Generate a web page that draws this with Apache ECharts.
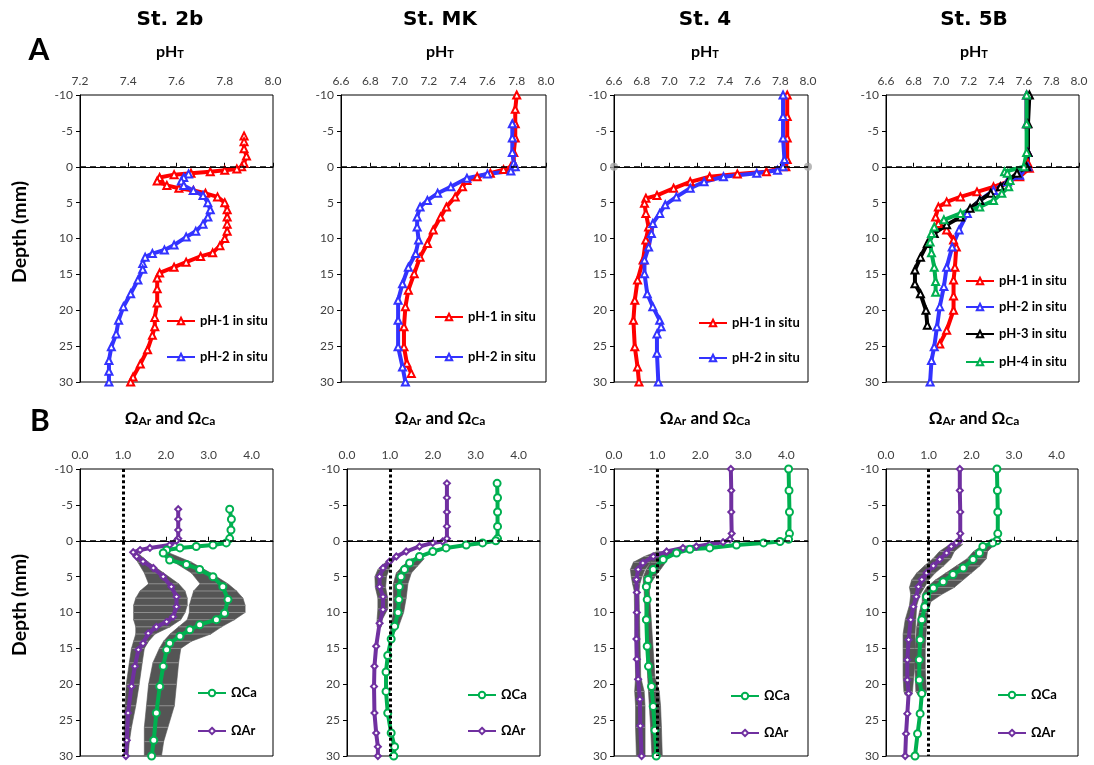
<!DOCTYPE html>
<html>
<head>
<meta charset="utf-8">
<script src="https://cdn.jsdelivr.net/npm/echarts@6/dist/echarts.min.js"></script>
<style>html,body{margin:0;padding:0;background:#fff;}#chart{width:1094px;height:765px;}</style>
</head>
<body>
<div id="chart"></div>
<script>
// ---------------- DATA ----------------
const stations = ['St. 2b', 'St. MK', 'St. 4', 'St. 5B'];
const panelLetters = ['A', 'B'];
const phAxisA = [7.2, 8.0, 0.2];      // min, max, interval (St. 2b)
const phAxisB = [6.6, 8.0, 0.2];      // min, max, interval (others)
const omegaAxis = [0, 4.5, 1];
const depthAxis = [-10, 30, 5];
const surfaceDepth = 0;
const omegaOne = 1;
const phSeriesNames = ['pH-1 in situ', 'pH-2 in situ', 'pH-3 in situ', 'pH-4 in situ'];
const omegaSeriesNames = ['ΩCa', 'ΩAr'];

// pH profiles: [pH, depth mm]
const st2b_pH1 = [[7.88,-4.3],[7.88,-3.5],[7.88,-2.5],[7.89,-1.5],[7.88,-0.5],[7.87,0],[7.85,0.3],[7.80,0.5],[7.74,0.7],[7.66,0.9],[7.59,1.1],[7.53,1.5],[7.52,2.0],[7.56,2.6],[7.61,3.0],[7.67,3.3],[7.72,3.7],[7.77,4.2],[7.80,5.0],[7.81,6.0],[7.81,7.0],[7.81,8.0],[7.81,9.0],[7.80,10.0],[7.78,11.0],[7.75,12.0],[7.70,12.5],[7.64,13.3],[7.59,14.0],[7.53,14.8],[7.52,15.5],[7.52,17],[7.52,19],[7.51,21],[7.51,22.3],[7.50,23.5],[7.48,25.5],[7.45,27.5],[7.42,29.3],[7.41,30]];
const st2b_pH2 = [[7.65,1.0],[7.63,1.5],[7.62,2.0],[7.63,2.6],[7.67,3.3],[7.71,4.0],[7.73,5.0],[7.74,6.0],[7.73,7.0],[7.71,8.0],[7.68,9.0],[7.64,9.8],[7.59,10.9],[7.55,11.6],[7.50,12.1],[7.47,12.6],[7.46,13.5],[7.46,14.3],[7.44,15.8],[7.41,17.7],[7.38,19.5],[7.36,21.4],[7.35,23.3],[7.33,25.1],[7.32,27],[7.32,28.5],[7.32,30]];
const stMK_pH1 = [[7.80,-10],[7.79,-8],[7.79,-6],[7.79,-4],[7.78,-2],[7.78,-0.5],[7.76,0],[7.71,0.4],[7.62,0.9],[7.53,1.4],[7.46,1.9],[7.43,2.8],[7.38,4.2],[7.32,5.6],[7.28,7.0],[7.23,8.8],[7.19,10.7],[7.14,12.6],[7.10,14.9],[7.06,17.2],[7.04,19.5],[7.03,22.3],[7.03,25.1],[7.05,27.4],[7.08,28.8]];
const stMK_pH2 = [[7.77,-6],[7.77,-4],[7.77,-2],[7.78,-0.5],[7.79,0],[7.76,0.6],[7.60,1.0],[7.46,1.6],[7.35,2.8],[7.26,3.7],[7.19,4.7],[7.14,5.6],[7.12,7.0],[7.12,8.4],[7.13,10.2],[7.11,12.1],[7.06,14.0],[7.02,16.3],[6.99,18.6],[6.99,21.4],[6.99,25.1],[7.02,27.9],[7.04,30]];
const st4_pH1 = [[7.85,-10],[7.85,-7],[7.85,-4],[7.85,-1],[7.84,0],[7.70,0.7],[7.49,1.0],[7.29,1.4],[7.15,2.1],[7.03,3.0],[6.91,4.0],[6.83,4.4],[6.82,5.1],[6.83,6.5],[6.85,8.4],[6.83,10.2],[6.81,13.0],[6.77,15.8],[6.75,18.6],[6.74,21.4],[6.75,25.1],[6.77,27.9],[6.78,30]];
const st4_pH2 = [[7.82,-10],[7.82,-7],[7.82,-4],[7.83,-1],[7.82,0],[7.78,0.5],[7.63,0.9],[7.39,1.4],[7.25,2.1],[7.15,3.0],[7.05,4.2],[6.97,5.3],[6.93,6.5],[6.88,7.9],[6.87,9.3],[6.85,11.2],[6.82,13.0],[6.82,14.9],[6.84,17.7],[6.88,19.5],[6.93,21.4],[6.94,22.3],[6.91,23.3],[6.91,26.0],[6.92,30]];
const st4_surfaceMarks = [[6.6,0],[8.0,0]];
const st5B_pH1 = [[7.62,-10],[7.62,-6],[7.63,-2],[7.63,-0.5],[7.64,0.2],[7.57,1.4],[7.48,2.1],[7.38,2.8],[7.26,3.5],[7.14,4.2],[7.04,4.9],[6.98,5.6],[6.96,7.0],[6.98,7.9],[7.04,8.8],[7.09,10.2],[7.11,11.2],[7.10,14.0],[7.09,15.8],[7.09,18],[7.09,20.0],[7.04,22.8],[6.99,24.7]];
const st5B_pH2 = [[7.62,-10],[7.62,-6],[7.63,-2],[7.63,0],[7.57,1.2],[7.48,2.1],[7.38,3.3],[7.28,4.7],[7.19,6.5],[7.13,8.8],[7.08,11.2],[7.04,14.0],[7.02,16.7],[6.99,19.5],[6.97,22.3],[6.95,25.1],[6.93,27.0],[6.92,30]];
const st5B_pH3 = [[7.64,-10],[7.63,-6],[7.63,-2],[7.62,0],[7.55,0.9],[7.49,1.9],[7.43,2.8],[7.36,3.7],[7.28,4.7],[7.21,5.8],[7.14,7.0],[7.04,8.1],[6.95,9.3],[6.90,10.7],[6.85,12.6],[6.81,14.4],[6.81,16.3],[6.85,17.7],[6.89,20.0],[6.90,22.1]];
const st5B_pH4 = [[7.62,-10],[7.62,-6],[7.62,-2],[7.60,0],[7.46,0.7],[7.48,0.9],[7.50,1.9],[7.49,2.8],[7.44,3.7],[7.38,4.7],[7.28,5.6],[7.14,6.5],[7.02,7.4],[6.95,8.4],[6.93,9.3],[6.92,10.5],[6.93,12],[6.95,14],[6.96,16],[6.96,17.5]];

// Saturation states: [Omega, depth mm]
const st2b_Ca = [[3.49,-4.4],[3.53,-3],[3.52,-1.5],[3.49,-0.3],[3.41,0.3],[3.10,0.6],[2.71,0.8],[2.33,1.0],[2.02,1.3],[1.94,1.7],[2.09,2.7],[2.48,3.3],[2.79,4.0],[3.10,5.0],[3.33,6.4],[3.45,8.2],[3.37,10.1],[3.18,11.0],[2.79,11.7],[2.56,12.4],[2.33,13.3],[2.09,14.3],[2.02,15.2],[1.94,17.5],[1.86,20.3],[1.78,24.0],[1.72,27.8],[1.67,30]];
const st2b_Ar = [[2.29,-4.4],[2.29,-3],[2.29,-1.5],[2.29,-0.3],[2.25,0],[2.09,0.6],[1.63,1.0],[1.40,1.3],[1.24,1.6],[1.32,2.2],[1.47,2.9],[1.71,3.8],[1.94,5.0],[2.13,6.4],[2.25,7.8],[2.25,9.2],[2.17,10.6],[2.02,11.3],[1.78,12.0],[1.59,12.9],[1.47,14.3],[1.36,15.2],[1.28,17.5],[1.20,20.3],[1.12,24.0],[1.09,27.8],[1.07,30]];
const stMK_Ca = [[3.50,-8],[3.51,-6],[3.51,-4],[3.51,-2],[3.51,-0.3],[3.47,0],[3.16,0.3],[2.78,0.6],[2.31,1.0],[2.0,1.5],[1.69,2.2],[1.46,3.1],[1.34,4.0],[1.26,5.0],[1.22,6.4],[1.21,8.2],[1.19,10.0],[1.11,11.9],[1.03,13.7],[0.95,16.0],[0.91,18.3],[0.91,21.0],[0.95,24.0],[1.03,26.8],[1.11,28.7],[1.09,30]];
const stMK_Ar = [[2.33,-8],[2.33,-6],[2.33,-4],[2.33,-2],[2.33,-0.3],[2.23,0.1],[2.0,0.3],[1.69,0.8],[1.38,1.5],[1.15,2.2],[0.99,2.9],[0.84,3.8],[0.76,5.0],[0.76,6.4],[0.84,7.8],[0.84,9.6],[0.76,11.5],[0.68,14.7],[0.64,17.5],[0.63,20.3],[0.64,24.0],[0.68,26.8],[0.72,28.7],[0.72,30]];
const st4_Ca = [[4.05,-10],[4.06,-7],[4.07,-4],[4.07,-1],[4.05,-0.2],[3.85,0.1],[3.47,0.3],[2.84,0.6],[2.22,1.0],[1.76,1.2],[1.45,1.7],[1.14,2.6],[0.91,4.0],[0.79,5.4],[0.75,6.4],[0.77,8.2],[0.75,11.0],[0.77,14.7],[0.80,17.5],[0.87,20.3],[0.91,23.1],[0.95,26.4],[0.98,30]];
const st4_Ar = [[2.71,-10],[2.72,-7],[2.72,-4],[2.73,-1],[2.69,-0.2],[2.53,0.2],[2.22,0.5],[1.91,0.8],[1.60,1.0],[1.22,1.5],[0.91,2.2],[0.67,3.1],[0.56,4.0],[0.52,5.4],[0.53,7.2],[0.53,10.0],[0.52,13.7],[0.53,16.5],[0.56,19.3],[0.60,22.1],[0.61,25.8],[0.64,30]];
const st5B_Ca = [[2.60,-10],[2.61,-7],[2.62,-4],[2.62,-1],[2.60,0],[2.50,0.3],[2.27,0.8],[2.19,1.7],[2.04,2.6],[1.81,3.8],[1.57,4.7],[1.34,5.7],[1.11,6.6],[0.95,7.8],[0.91,9.2],[0.84,11.0],[0.80,13.8],[0.78,16.6],[0.78,19.4],[0.84,21.3],[0.80,24.1],[0.74,26.9],[0.68,30]];
const st5B_Ar = [[1.73,-10],[1.73,-7],[1.74,-4],[1.74,-1],[1.72,0],[1.65,0.3],[1.53,0.8],[1.42,1.7],[1.26,2.6],[1.11,3.5],[0.95,4.5],[0.84,5.4],[0.76,6.4],[0.71,7.8],[0.64,9.2],[0.58,11.0],[0.53,13.8],[0.50,16.6],[0.50,19.4],[0.53,21.3],[0.50,24.1],[0.47,26.9],[0.45,30]];

// Error ranges (standard deviation envelopes): [depth, low, high]
const st2b_ArErr = [[1.5,1.2,1.3],[3,1.35,1.6],[4.5,1.5,1.95],[6,1.6,2.3],[7,1.4,2.45],[8,1.3,2.5],[9,1.25,2.5],[10,1.25,2.45],[11,1.25,2.35],[12,1.3,2.1],[13,1.3,1.75],[14,1.25,1.6],[15,1.2,1.5],[17,1.15,1.45],[20,1.08,1.38],[23,1.05,1.3],[26,1.03,1.2],[28,1.03,1.15],[30,1.02,1.12]];
const st2b_CaErr = [[1.5,1.9,2.0],[3,2.2,2.6],[4.5,2.6,3.05],[6,2.8,3.45],[7,2.65,3.65],[8,2.6,3.8],[9,2.55,3.85],[10,2.55,3.85],[11,2.5,3.6],[12,2.3,3.3],[13,2.1,3.05],[14,1.95,2.6],[15,1.85,2.35],[17,1.7,2.3],[20,1.6,2.25],[23,1.55,2.2],[26,1.5,2.05],[28,1.5,1.95],[30,1.5,1.9]];
const stMK_ArErr = [[3,0.9,1.05],[4,0.72,0.98],[5,0.65,0.92],[6.5,0.66,0.9],[8,0.72,0.95],[9.5,0.72,0.95],[11,0.7,0.82],[12,0.7,0.8]];
const stMK_CaErr = [[2.5,1.5,1.8],[3.5,1.3,1.65],[4.5,1.15,1.5],[6,1.08,1.42],[8,1.08,1.38],[10,1.08,1.32],[12,1.02,1.2],[13,1.0,1.08]];
const st4_ArErr = [[1.5,1.0,1.3],[2.2,0.7,1.05],[3,0.45,0.85],[4,0.38,0.72],[5,0.4,0.65],[6,0.43,0.6],[7,0.47,0.58],[19,0.5,0.62],[21,0.48,0.7],[23,0.5,0.72],[26,0.5,0.72],[30,0.52,0.72]];
const st4_CaErr = [[1.5,1.3,1.55],[2.2,1.0,1.25],[3,0.85,1.2],[4,0.75,1.08],[5,0.68,0.95],[6,0.68,0.85],[7,0.7,0.82],[19,0.78,0.95],[21,0.8,1.05],[23,0.82,1.08],[26,0.85,1.1],[30,0.88,1.12]];
const st5B_ArErr = [[0.5,1.5,1.8],[1.5,1.25,1.6],[2.5,1.1,1.52],[3.5,0.9,1.35],[4.5,0.72,1.15],[5.5,0.6,1.0],[6.5,0.55,0.9],[7.5,0.58,0.8],[9,0.55,0.72],[11,0.45,0.7],[13,0.4,0.68],[15,0.4,0.68],[17,0.4,0.68],[19,0.4,0.65],[21,0.42,0.62],[21.5,0.45,0.6]];
const st5B_CaErr = [[0.5,2.3,2.55],[1.5,2.05,2.38],[2.5,1.9,2.35],[3.5,1.65,2.2],[4.5,1.4,2.0],[5.5,1.15,1.8],[6.5,0.95,1.6],[7.5,0.85,1.3],[8.5,0.85,1.05],[10,0.78,0.98],[12,0.72,0.95],[15,0.68,0.92],[18,0.68,0.92],[21,0.7,0.95],[21.5,0.75,0.92]];

// ---------------- LAYOUT / STYLE ----------------
const FONT = 'Lato, "Open Sans", sans-serif';
const TITLE_FONT = '"DejaVu Sans", Lato, sans-serif';
const gridBoxes = [
  [80,95,193,287],[341,95,205,287],[614,95,194,287],[886,95,193,287],
  [80,469,193,287],[347,469,193,287],[614,469,194,287],[886,469,192,287]
];
const COLORS = { 'pH-1 in situ':'#FF0000', 'pH-2 in situ':'#3333FF', 'pH-3 in situ':'#000000', 'pH-4 in situ':'#00B050', 'ΩCa':'#00B050', 'ΩAr':'#7030A0' };
const SYMBOLS = { 'pH-1 in situ':'emptyTriangle', 'pH-2 in situ':'emptyTriangle', 'pH-3 in situ':'emptyTriangle', 'pH-4 in situ':'emptyTriangle', 'ΩCa':'emptyCircle', 'ΩAr':'emptyDiamond' };
const SIZES = { 'ΩCa':7, 'ΩAr':6 };

const panelSeries = [
  [[phSeriesNames[0], st2b_pH1], [phSeriesNames[1], st2b_pH2]],
  [[phSeriesNames[0], stMK_pH1], [phSeriesNames[1], stMK_pH2]],
  [[phSeriesNames[0], st4_pH1], [phSeriesNames[1], st4_pH2]],
  [[phSeriesNames[0], st5B_pH1], [phSeriesNames[1], st5B_pH2], [phSeriesNames[2], st5B_pH3], [phSeriesNames[3], st5B_pH4]],
  [[omegaSeriesNames[1], st2b_Ar], [omegaSeriesNames[0], st2b_Ca]],
  [[omegaSeriesNames[1], stMK_Ar], [omegaSeriesNames[0], stMK_Ca]],
  [[omegaSeriesNames[1], st4_Ar], [omegaSeriesNames[0], st4_Ca]],
  [[omegaSeriesNames[1], st5B_Ar], [omegaSeriesNames[0], st5B_Ca]]
];
const panelBands = [null,null,null,null,[st2b_ArErr, st2b_CaErr],[stMK_ArErr, stMK_CaErr],[st4_ArErr, st4_CaErr],[st5B_ArErr, st5B_CaErr]];

// legend item positions: [lineStartX, centerY]
const legendPos = [
  [[166,321],[166,357]],
  [[434,317],[434,357]],
  [[698,323],[698,358]],
  [[965,281],[965,307],[965,334],[965,362]],
  [[197,693],[197,731]],
  [[467,695],[467,731]],
  [[730,696],[730,733]],
  [[997,695],[997,733]]
];
const legendOrder = [
  phSeriesNames.slice(0,2), phSeriesNames.slice(0,2), phSeriesNames.slice(0,2), phSeriesNames,
  omegaSeriesNames, omegaSeriesNames, omegaSeriesNames, omegaSeriesNames
];

const grid = gridBoxes.map(b => ({ left:b[0], top:b[1], width:b[2], height:b[3], show:true, borderColor:'#000', borderWidth:1, backgroundColor:'transparent' }));

const axisLabelStyle = { color:'#404040', fontSize:12, fontFamily:FONT };
const xAxis = gridBoxes.map((b, i) => {
  const ax = i === 0 ? phAxisA : (i < 4 ? phAxisB : omegaAxis);
  return {
    type:'value', gridIndex:i, position:'top', min:ax[0], max:ax[1], interval:ax[2],
    axisLine:{ show:true, lineStyle:{ color:'#000', width:1 } },
    axisTick:{ show:true, length:4, lineStyle:{ color:'#000' } },
    splitLine:{ show:false },
    axisLabel:Object.assign({ margin:8, showMaxLabel: i < 4, formatter: v => v.toFixed(1) }, axisLabelStyle)
  };
});
const yAxis = gridBoxes.map((b, i) => ({
  type:'value', gridIndex:i, inverse:true, min:depthAxis[0], max:depthAxis[1], interval:depthAxis[2],
  axisLine:{ show:true, lineStyle:{ color:'#000', width:1 } },
  axisTick:{ show:true, length:4, lineStyle:{ color:'#000' } },
  splitLine:{ show:false },
  axisLabel:Object.assign({ margin:7 }, axisLabelStyle)
}));

function bandSeries(g, band) {
  return {
    type:'custom', name:'sd', xAxisIndex:g, yAxisIndex:g, z:1, silent:true, clip:true,
    data: band, encode:{ x:[1,2], y:0 },
    renderItem: function (params, api) {
      const i = params.dataIndex;
      const d0 = api.value(0), lo0 = api.value(1), hi0 = api.value(2);
      const a = api.coord([lo0, d0]), b = api.coord([hi0, d0]);
      const children = [];
      if (i < band.length - 1) {
        const n = band[i + 1];
        const c = api.coord([n[2], n[0]]), e = api.coord([n[1], n[0]]);
        children.push({ type:'polygon', shape:{ points:[a, b, c, e] }, style:{ fill:'#555555', stroke:'#555555', lineWidth:0.6 } });
      }
      children.push({ type:'line', shape:{ x1:a[0], y1:a[1], x2:b[0], y2:b[1] }, style:{ stroke:'#9a9a9a', lineWidth:0.8 } });
      return { type:'group', children:children };
    }
  };
}

const series = [];
panelSeries.forEach((list, g) => {
  if (panelBands[g]) panelBands[g].forEach(band => series.push(bandSeries(g, band)));
  list.forEach(([name, data], k) => {
    const s = {
      type:'line', name:name, xAxisIndex:g, yAxisIndex:g, data:data, z:3,
      symbol:SYMBOLS[name], symbolSize:SIZES[name] || 7, showSymbol:true,
      lineStyle:{ color:COLORS[name], width:4 },
      itemStyle:{ color:COLORS[name], borderColor:COLORS[name], borderWidth:1.5 },
      emphasis:{ disabled:true }
    };
    if (k === 0) {
      const mlData = [{ yAxis:surfaceDepth, lineStyle:{ type:[6,4], width:1.5, color:'#000' } }];
      if (g >= 4) mlData.push({ xAxis:omegaOne, lineStyle:{ type:[3,2.6], width:3, color:'#000' } });
      s.markLine = { silent:true, symbol:'none', label:{ show:false }, animation:false, data:mlData };
    }
    series.push(s);
  });
});
series.push({
  type:'scatter', name:'surface', xAxisIndex:2, yAxisIndex:2, data:st4_surfaceMarks,
  symbol:'circle', symbolSize:8, clip:false, z:4, silent:true, itemStyle:{ color:'#A6A6A6' }
});

const legend = [];
legendPos.forEach((items, g) => {
  items.forEach((p, k) => {
    legend.push({
      data:[legendOrder[g][k]], orient:'vertical', left:p[0], top:p[1] - 7,
      itemWidth:28, itemHeight:8, padding:0, selectedMode:false,
      textStyle:{ fontSize:13, fontWeight:'bold', color:'#000', fontFamily:FONT, lineHeight:14 }
    });
  });
});

const titleX = [170, 440, 705, 974];
function txt(x, y, text, size, font, rich, rot) {
  return { type:'text', x:x, y:y, rotation:rot || 0, style:{ text:text, fontSize:size, fontWeight:'bold', fontFamily:font, fill:'#000', align:'center', verticalAlign:'middle', rich:rich || {} } };
}
const graphicTexts = [];
stations.forEach((s, i) => graphicTexts.push(txt(titleX[i], 20, s, 20, TITLE_FONT)));
const subRich = {
  s:{ fontSize:11, fontWeight:'bold', fontFamily:FONT, fill:'#000', verticalAlign:'bottom', padding:[5,0,0,0] },
  m:{ fontSize:16, fontWeight:'bold', fontFamily:FONT, fill:'#000' },
  w:{ fontSize:17, fontWeight:'bold', fontFamily:FONT, fill:'#000' },
  ws:{ fontSize:12, fontWeight:'bold', fontFamily:FONT, fill:'#000', verticalAlign:'bottom', padding:[5,0,0,0] }
};
titleX.forEach(x => {
  graphicTexts.push(txt(x, 52, '{m|pH}{s|T}', 16, FONT, subRich));
  graphicTexts.push(txt(x, 419, '{w|Ω}{ws|Ar}{w| and Ω}{ws|Ca}', 17, FONT, subRich));
});
graphicTexts.push(txt(39, 50, panelLetters[0], 30, FONT));
graphicTexts.push(txt(40, 421, panelLetters[1], 30, FONT));
graphicTexts.push(txt(20, 232, 'Depth (mm)', 19.5, FONT, null, Math.PI / 2));
graphicTexts.push(txt(20, 605, 'Depth (mm)', 19.5, FONT, null, Math.PI / 2));

const chart = echarts.init(document.getElementById('chart'), null, { renderer:'canvas' });
chart.setOption({
  backgroundColor:'#ffffff',
  animation:false,
  textStyle:{ fontFamily:FONT },
  grid:grid, xAxis:xAxis, yAxis:yAxis, series:series, legend:legend,
  graphic:graphicTexts
});
</script>
</body>
</html>
